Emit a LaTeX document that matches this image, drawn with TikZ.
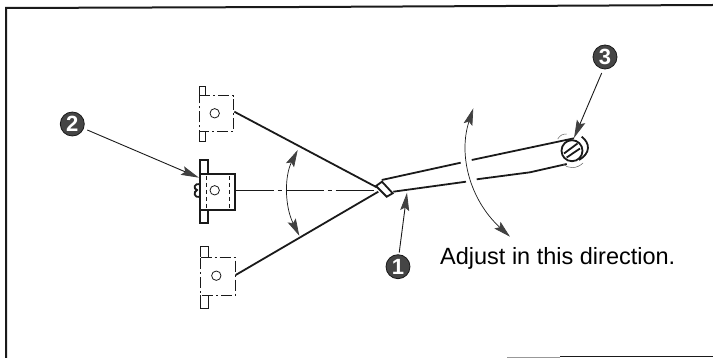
\documentclass[tikz,border=0pt]{standalone}
\usepackage{fontspec}
\setmainfont{Liberation Sans}
\usetikzlibrary{arrows.meta}
\definecolor{ink}{HTML}{1A1A1A}
\definecolor{badge}{HTML}{454545}
\definecolor{head}{HTML}{404040}
\tikzset{
  badgenode/.style={circle,fill=badge,draw=ink,line width=0.8pt,minimum size=24pt,inner sep=0pt,text=white,font=\bfseries\fontsize{22}{22}\selectfont},
  leader/.style={draw=ink,line width=0.9pt,-{Stealth[length=18pt,width=9pt,inset=3pt,color=head,fill=head]}},
  swing/.style={draw=ink,line width=0.7pt,{Stealth[length=17pt,width=9pt,inset=3pt,color=head,fill=head]}-{Stealth[length=17pt,width=9pt,inset=3pt,color=head,fill=head]}},
  thickline/.style={draw=ink,line width=1.8pt},
  boldline/.style={draw=ink,line width=2pt,line join=miter},
  thinline/.style={draw=ink,line width=0.8pt},
  hairline/.style={draw=ink!70,line width=0.5pt},
  phantomline/.style={draw=ink,line width=0.8pt,dash pattern=on 11pt off 3pt on 2pt off 3pt},
  innerdash/.style={draw=ink,line width=0.8pt,dash pattern=on 4pt off 3pt},
  centerline/.style={draw=ink,line width=0.7pt,dash pattern=on 38pt off 4pt on 4pt off 4pt},
  frameline/.style={draw=ink,line width=2pt},
  caption/.style={inner sep=0pt,anchor=base west,text=black,font=\fontsize{23.5}{23.5}\selectfont}
}
\begin{document}
\begin{tikzpicture}[x=1pt,y=-1pt]
\useasboundingbox (0,0) rectangle (713,358);
% frame
\draw[frameline] (6,358) -- (6,8) -- (300,7) -- (713,5);
\draw[draw=ink,line width=1pt] (560,357) -- (713,357);
\draw[draw=ink!45,line width=0.7pt] (507,357) -- (560,357);
% upper phantom bracket
\draw[phantomline] (199,95.7) -- (233.3,95.7) -- (233.3,131.7) -- (199,131.7) -- cycle;
\draw[thinline] (199,95.7) -- (199,86) -- (205.7,86) -- (205.7,95.7);
\draw[thinline] (199,131.7) -- (199,141.7) -- (205.7,141.7) -- (205.7,131.7);
\draw[thinline] (214.7,113.3) circle (4.7);
% lower phantom bracket
\draw[phantomline] (200.7,257.3) -- (235.3,257.3) -- (235.3,295) -- (200.7,295) -- cycle;
\draw[thinline] (200.7,257.3) -- (200.7,246.7) -- (208,246.7) -- (208,257.3);
\draw[thinline] (200.7,295) -- (200.7,308) -- (208,308) -- (208,295);
\draw[thinline] (216.3,275.7) circle (4.7);
% centre bracket
\draw[boldline] (200.3,173.7) rectangle (234.7,210);
\draw[boldline] (200,173.7) -- (200,160) -- (207.7,160) -- (207.7,173.7);
\draw[boldline] (200,210) -- (200,223.3) -- (207.7,223.3) -- (207.7,210);
\draw[innerdash] (206.7,176) -- (206.7,208);
\draw[innerdash] (229.3,176) -- (229.3,208);
\draw[thinline] (214.7,190.3) circle (4.7);
\draw[thickline] (200,184) .. controls (194,183) and (193,189) .. (197,190) .. controls (193,192) and (194,198) .. (200,197);
% rays
\draw[thickline] (234.3,111.7) -- (376.7,187.3);
\draw[thickline] (235.7,275) -- (378.3,191.7);
\draw[centerline] (235.7,190) -- (376.7,190);
% blade
\draw[thickline] (376,186) -- (382,181.7) -- (392.7,193.3) -- (386.7,196.7) -- cycle;
\draw[thickline] (381.7,180) -- (460.7,162.7);
\draw[thickline] (471.7,160) -- (574,138.3);
\draw[thickline] (393.3,191.7) -- (466,181.7);
\draw[thickline] (476.7,179.3) -- (530,172.3) -- (566.7,164);
% screw
\draw[thickline] (572,150.7) circle (10.5);
\draw[thickline] (564,153.5) -- (577.5,143.5);
\draw[thickline] (566.7,157.5) -- (580,148.5);
\draw[thickline] (581.7,136.7) .. controls (590,143) and (591,153) .. (579,160);
\draw[hairline] (557.7,139) .. controls (560,135) and (563,134) .. (566.7,134);
\draw[hairline] (563,164) .. controls (568,169) and (577,169) .. (583,163);
% swing arrows
\coordinate (swingA) at (297.7,150);
\coordinate (swingB) at (299.3,235.7);
\draw[swing] (swingA) .. controls (284.5,176) and (284.5,206) .. (swingB);
\coordinate (adjustA) at (473.3,108.3);
\coordinate (adjustB) at (510,236.7);
\draw[swing] (adjustA) .. controls (458,155) and (470,200) .. (adjustB);
% badges and leaders
\node[badgenode] (n1) at (398,266.7) {1};
\node[badgenode] (n2) at (72.3,124) {2};
\node[badgenode] (n3) at (605,57) {3};
\coordinate (t1) at (407,192.7);
\coordinate (t2) at (199,177.7);
\coordinate (t3) at (574,138);
\draw[leader] (n1) ++(1.2,-14) -- (t1);
\draw[leader] (n2) ++(15,6) -- (t2);
\draw[leader] (n3) ++(-3.3,16) -- (t3);
% caption
\node[caption] (cap) at (440,265) {Adjust in this direction.};
\end{tikzpicture}
\end{document}
